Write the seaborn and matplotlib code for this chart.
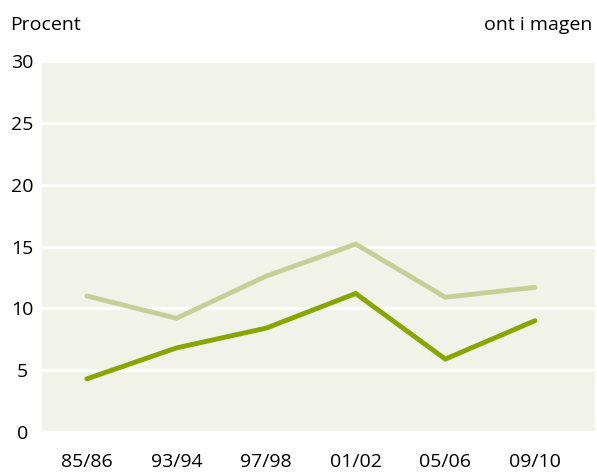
import numpy as np
import pandas as pd
import matplotlib
matplotlib.use("Agg")
import matplotlib.pyplot as plt
import seaborn as sns

# data
years = ["85/86", "93/94", "97/98", "01/02", "05/06", "09/10"]
light_vals = [11.0, 9.2, 12.6, 15.2, 10.9, 11.7]
dark_vals = [4.3, 6.8, 8.4, 11.2, 5.9, 9.0]

df = pd.DataFrame({
    "x": list(range(len(years))) * 2,
    "value": light_vals + dark_vals,
    "series": ["light"] * len(years) + ["dark"] * len(years),
})

sns.set_style("white", {"axes.facecolor": "#f2f3e8", "text.color": "black",
                        "xtick.color": "black", "ytick.color": "black"})
plt.rcParams["font.family"] = ["Open Sans", "DejaVu Sans"]

fig = plt.figure(figsize=(5.97, 4.76), dpi=100)
ax = fig.add_axes([0.0704, 0.0924, 0.9262, 0.7794])

sns.lineplot(data=df, x="x", y="value", hue="series",
             palette={"light": "#c4d096", "dark": "#86a602"},
             linewidth=3.5, legend=False, ax=ax,
             solid_capstyle="round", solid_joinstyle="miter")

ax.set_xlim(-0.5, 5.67)
ax.set_ylim(0, 30)
ax.set_yticks(np.arange(0, 31, 5))
ax.set_xticks(range(len(years)))
ax.set_xticklabels(years)
ax.grid(axis="y", color="white", linewidth=2)
ax.set_axisbelow(True)
for s in ax.spines.values():
    s.set_visible(False)
ax.tick_params(axis="y", length=0, pad=14, labelsize=14, labelcolor="black")
ax.tick_params(axis="x", length=0, pad=15, labelsize=14, labelcolor="black")
for lab in ax.get_yticklabels():
    lab.set_ha("center")
ax.set_xlabel("")
ax.set_ylabel("")

fig.text(10 / 597, 1 - 25 / 476, "Procent", ha="left", va="center",
         fontsize=14, color="black")
fig.text(592 / 597, 1 - 25 / 476, "ont i magen", ha="right", va="center",
         fontsize=14, color="black")

fig.savefig("out.png", dpi=100)
